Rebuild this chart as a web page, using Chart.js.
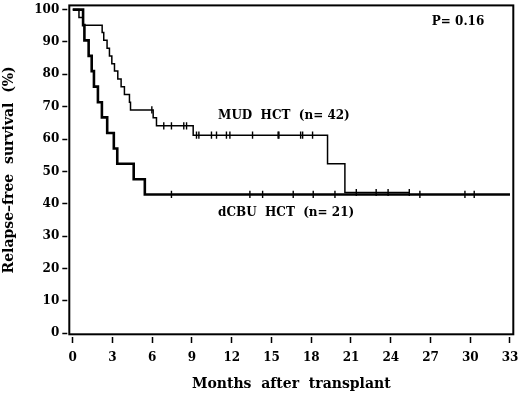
<!DOCTYPE html>
<html>
<head>
<meta charset="utf-8">
<script src="https://cdn.jsdelivr.net/npm/chart.js@4/dist/chart.umd.min.js"></script>
<style>
  body { margin: 0; background: #fff; }
  canvas { display: block; }
</style>
</head>
<body>
<canvas id="km" width="520" height="395"></canvas>
<script>
// MUD HCT (n=42): event times (months) and survival (%) after each event
const mudEventTimes = [0, 0.47, 0.78, 2.22, 2.34, 2.59, 2.77, 2.95, 3.15, 3.40, 3.65, 3.90, 4.28, 4.36, 6.07, 6.32, 9.09, 19.23, 20.54];
const mudSurvival   = [100, 97.6, 95.2, 92.9, 90.5, 88.1, 85.7, 83.3, 81.0, 78.6, 76.2, 73.8, 71.4, 69.0, 66.6, 64.1, 61.2, 52.4, 43.5];
const mudCensorTimes = [5.97, 6.87, 7.45, 8.38, 8.59, 9.34, 9.52, 10.47, 10.85, 11.6, 11.86, 13.57, 15.5, 15.56, 17.2, 17.35, 18.1, 21.4, 22.9, 23.8, 25.4];
const mudLastTime = 25.4;

// dCBU HCT (n=21)
const dcbuEventTimes = [0, 0.78, 0.88, 1.2, 1.43, 1.6, 1.9, 2.2, 2.6, 3.1, 3.36, 4.6, 5.44];
const dcbuSurvival   = [100, 95.2, 90.5, 85.7, 81.0, 76.2, 71.4, 66.7, 61.9, 57.1, 52.4, 47.6, 42.9];
const dcbuCensorTimes = [7.45, 13.37, 14.33, 16.64, 18.15, 19.79, 26.2, 29.6, 30.3];
const dcbuLastTime = 33;

const xTickValues = [0, 3, 6, 9, 12, 15, 18, 21, 24, 27, 30, 33];
const yTickValues = [0, 10, 20, 30, 40, 50, 60, 70, 80, 90, 100];

const FONT = "'DejaVu Serif', serif";

// KM step value at time t
function survAt(times, surv, t) {
    let s = surv[0];
    for (let i = 0; i < times.length; i++) if (times[i] <= t) s = surv[i];
    return s;
}
function curve(times, surv, last) {
    const pts = times.map((t, i) => ({ x: t, y: surv[i] }));
    pts.push({ x: last, y: surv[surv.length - 1] });
    return pts;
}
function censors(times, surv, ct) {
    return ct.map(t => ({ x: t, y: survAt(times, surv, t) }));
}

const boxAndText = {
    id: 'boxAndText',
    afterDatasetsDraw(chart) {
        const { ctx, chartArea: a, scales: { x, y } } = chart;
        ctx.save();
        ctx.strokeStyle = '#000';
        ctx.lineWidth = 2;
        ctx.strokeRect(a.left, a.top, a.right - a.left, a.bottom - a.top);
        ctx.fillStyle = '#000';
        ctx.font = "bold 12px " + FONT;
        ctx.textBaseline = 'middle';
        ctx.fillText('MUD  HCT  (n= 42)', x.getPixelForValue(10.97), y.getPixelForValue(67.2));
        ctx.fillText('dCBU  HCT  (n= 21)', x.getPixelForValue(10.97), y.getPixelForValue(37.2));
        ctx.fillText('P= 0.16', x.getPixelForValue(27.1), y.getPixelForValue(96.2));
        ctx.restore();
    }
};

const lineStyle = { borderColor: '#000', pointRadius: 0, stepped: 'before', fill: false, showLine: true };
const tickStyle = { type: 'scatter', borderColor: '#000', pointStyle: 'line', rotation: 90, pointRadius: 3.6, borderWidth: 1.4, showLine: false };

new Chart(document.getElementById('km'), {
    type: 'scatter',
    data: {
        datasets: [
            Object.assign({ label: 'MUD HCT', data: curve(mudEventTimes, mudSurvival, mudLastTime), borderWidth: 1.5 }, lineStyle),
            Object.assign({ label: 'dCBU HCT', data: curve(dcbuEventTimes, dcbuSurvival, dcbuLastTime), borderWidth: 2.6 }, lineStyle),
            Object.assign({ label: 'MUD censored', data: censors(mudEventTimes, mudSurvival, mudCensorTimes) }, tickStyle),
            Object.assign({ label: 'dCBU censored', data: censors(dcbuEventTimes, dcbuSurvival, dcbuCensorTimes) }, tickStyle)
        ]
    },
    options: {
        responsive: false,
        animation: false,
        layout: { padding: { top: 1.7, right: 6.7, left: 0, bottom: 0 } },
        plugins: { legend: { display: false }, tooltip: { enabled: false } },
        scales: {
            x: {
                type: 'linear', min: -0.26, max: 33.25,
                afterBuildTicks: s => { s.ticks = xTickValues.map(v => ({ value: v })); },
                afterFit: s => { s.height = 60.7; s.paddingLeft = 0; s.paddingRight = 0; },
                border: { display: false },
                grid: { drawOnChartArea: false, drawTicks: true, tickLength: 9, tickWidth: 1.5, tickColor: '#000', tickBorderDash: [0, 3, 6, 100] },
                ticks: { color: '#000', padding: 7, maxRotation: 0, font: { family: FONT, size: 12, weight: 'bold' } },
                title: { display: true, text: 'Months  after  transplant', color: '#000', padding: { top: 4, bottom: 2 }, font: { family: FONT, size: 14, weight: 'bold' } }
            },
            y: {
                type: 'linear', min: -0.3, max: 101.3,
                afterBuildTicks: s => { s.ticks = yTickValues.map(v => ({ value: v })); },
                afterFit: s => { s.width = 69.3; s.paddingTop = 0; s.paddingBottom = 0; },
                border: { display: false },
                grid: { drawOnChartArea: false, drawTicks: true, tickLength: 7, tickWidth: 1.5, tickColor: '#000', tickBorderDash: [5, 100] },
                ticks: { color: '#000', padding: 3, font: { family: FONT, size: 12, weight: 'bold' } },
                title: { display: true, text: 'Relapse\u2013free  survival  (%)', color: '#000', padding: { top: 1, bottom: 0 }, font: { family: FONT, size: 14, weight: 'bold' } }
            }
        }
    },
    plugins: [boxAndText]
});
</script>
</body>
</html>
